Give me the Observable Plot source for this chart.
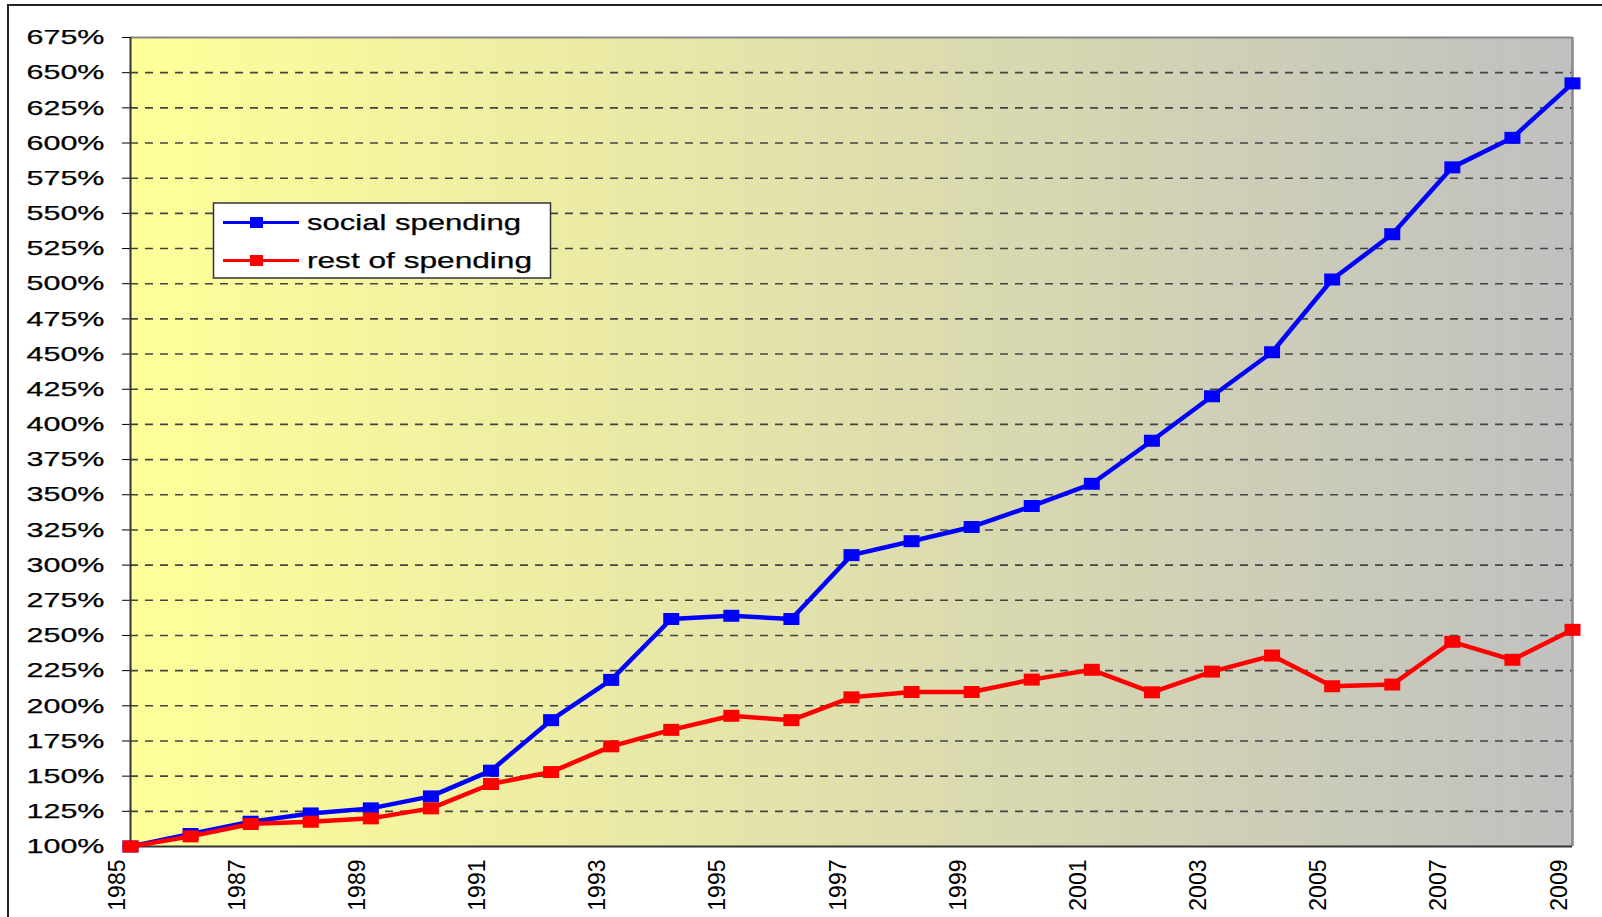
<!DOCTYPE html>
<html>
<head>
<meta charset="utf-8">
<script src="https://cdn.jsdelivr.net/npm/d3@7"></script>
<script src="https://cdn.jsdelivr.net/npm/@observablehq/plot@0.6"></script>
<style>
  html, body { margin: 0; padding: 0; background: #fff; overflow: hidden; width: 1602px; height: 917px; }
  #wrap { position: relative; width: 1602px; height: 917px; }
  #border { position: absolute; left: 7px; top: 4px; width: 1700px; height: 1000px; border-left: 2px solid #222; border-top: 2px solid #222; box-sizing: border-box; pointer-events: none; }
  #chart { position: absolute; left: 0; top: 0; }
</style>
</head>
<body>
<div id="wrap"><div id="chart"></div><div id="border"></div></div>
<script>
// ---- data ----
const years = [1985, 1986, 1987, 1988, 1989, 1990, 1991, 1992, 1993, 1994, 1995, 1996, 1997,
               1998, 1999, 2000, 2001, 2002, 2003, 2004, 2005, 2006, 2007, 2008, 2009];
const socialSpending = [100, 108.9, 117.6, 123.5, 127.1, 135.6, 153.9, 189.8, 218.4, 261.7, 264, 261.7, 307.1,
                        317, 327.1, 342, 357.8, 388.4, 420, 451.3, 503, 535.2, 582.7, 603.7, 642.4];
const restOfSpending = [100, 107.2, 116, 117.6, 120, 127.1, 144.4, 152.9, 171.2, 182.9, 192.9, 189.8, 206,
                        209.8, 209.8, 218.6, 225.6, 209.6, 224.3, 235.7, 213.9, 215.1, 245.5, 232.7, 254];
const seriesNames = ["social spending", "rest of spending"];
const seriesColors = ["#0000FF", "#FF0000"];
const yTicks = d3.range(100, 676, 25);
const xTickYears = [1985, 1987, 1989, 1991, 1993, 1995, 1997, 1999, 2001, 2003, 2005, 2007, 2009];

// table built from the arrays
const seriesValues = [socialSpending, restOfSpending];
const rows = seriesNames.flatMap((name, i) => years.map((year, j) => ({series: name, year, value: seriesValues[i][j]})));

const rectSymbol = { draw(ctx) { ctx.rect(-8, -6, 16, 12); } };

const seriesMarks = seriesNames.flatMap((name) => {
  const d = rows.filter(r => r.series === name);
  return [
    Plot.line(d, {x: "year", y: "value", stroke: "series", strokeWidth: 4.5, strokeLinejoin: "round"}),
    Plot.dot(d, {x: "year", y: "value", fill: "series", stroke: "none", symbol: rectSymbol, r: 6})
  ];
});

const plot = Plot.plot({
  width: 1602,
  height: 917,
  marginLeft: 130,
  marginRight: 30,
  marginTop: 37,
  marginBottom: 71,
  style: {fontFamily: "'Liberation Sans', Arial, sans-serif", fontSize: "21px", color: "#000", background: "transparent"},
  x: {domain: [1985, 2009], axis: null},
  y: {domain: [100, 675], ticks: yTicks, tickFormat: d => d + "%", tickSize: 8, tickPadding: 18, label: null},
  color: {domain: seriesNames, range: seriesColors},
  marks: [
    Plot.frame({fill: "url(#bgGrad)", stroke: "none"}),
    Plot.ruleY(yTicks.filter(v => v > 100 && v < 675), {stroke: "#444", strokeWidth: 1.6, strokeDasharray: "8,7"}),
    Plot.ruleY([675], {stroke: "#888", strokeWidth: 2}),
    Plot.ruleX([2009], {stroke: "#888", strokeWidth: 2.5}),
    Plot.ruleX([1985], {stroke: "#333", strokeWidth: 2}),
    Plot.ruleY([100], {stroke: "#333", strokeWidth: 2}),
    ...seriesMarks,
    Plot.text(xTickYears, {x: d => d, frameAnchor: "bottom", text: d => String(d), rotate: -90, textAnchor: "end",
                           dy: 13, dx: -6, fontSize: 23, ariaLabel: "x-labels", fill: "#000"})
  ]
});

document.getElementById("chart").appendChild(plot);
const svg = d3.select(plot);

// gradient background
const defs = svg.insert("defs", ":first-child");
const grad = defs.append("linearGradient").attr("id", "bgGrad").attr("x1", "0%").attr("x2", "100%").attr("y1", "0%").attr("y2", "0%");
grad.append("stop").attr("offset", "0%").attr("stop-color", "#FFFF99");
grad.append("stop").attr("offset", "100%").attr("stop-color", "#C0C0C0");

// stretched text (source is horizontally stretched)
svg.selectAll('g[aria-label="y-axis tick label"] text').attr("textLength", 78).attr("lengthAdjust", "spacingAndGlyphs")
  .attr("stroke", "#000").attr("stroke-width", 0.25);
svg.selectAll('g[aria-label="x-labels"] text').attr("textLength", 50).attr("lengthAdjust", "spacingAndGlyphs")
  .attr("stroke", "#000").attr("stroke-width", 0.25);

// legend
const lg = svg.append("g").attr("aria-label", "legend").attr("text-anchor", "start");
lg.append("rect").attr("x", 213.5).attr("y", 203).attr("width", 337).attr("height", 75)
  .attr("fill", "#fff").attr("stroke", "#333").attr("stroke-width", 1.5);
const legendTextLen = [214, 225];
seriesNames.forEach((name, i) => {
  const cy = 222.5 + i * 38;
  lg.append("line").attr("x1", 223).attr("x2", 299).attr("y1", cy).attr("y2", cy)
    .attr("stroke", seriesColors[i]).attr("stroke-width", 3);
  lg.append("rect").attr("x", 250).attr("y", cy - 5.5).attr("width", 13).attr("height", 11).attr("fill", seriesColors[i]);
  lg.append("text").attr("x", 307).attr("y", cy).attr("dy", "0.35em").attr("font-size", 22).attr("text-anchor", "start")
    .attr("textLength", legendTextLen[i]).attr("lengthAdjust", "spacingAndGlyphs").attr("fill", "#000")
    .attr("stroke", "#000").attr("stroke-width", 0.25).text(name);
});
</script>
</body>
</html>
